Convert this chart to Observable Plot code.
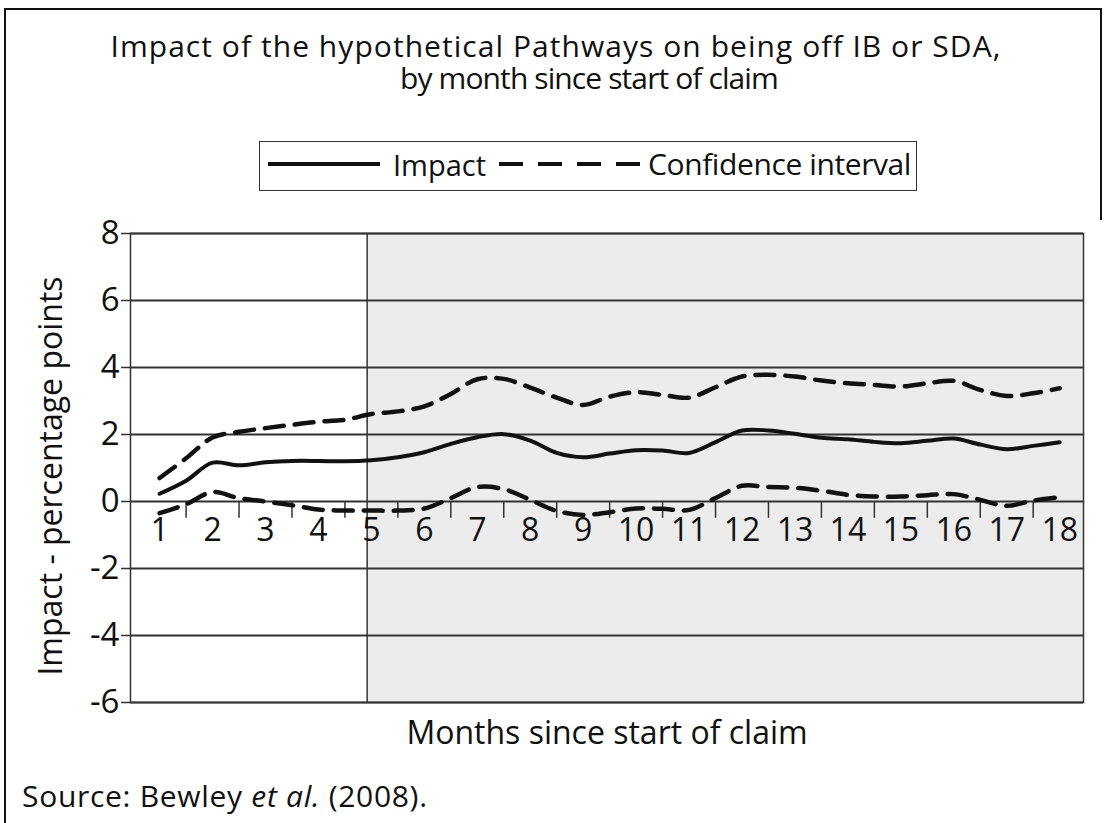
<!DOCTYPE html>
<html>
<head>
<meta charset="utf-8">
<script src="https://cdn.jsdelivr.net/npm/d3@7"></script>
<script src="https://cdn.jsdelivr.net/npm/@observablehq/plot@0.6"></script>
<style>
  html, body { margin: 0; padding: 0; background: #fff; }
  #page { position: relative; width: 1105px; height: 823px; overflow: hidden; background: #fff; font-family: "Open Sans", sans-serif; color: #111; }
  .abs { position: absolute; white-space: nowrap; line-height: 1; }
  .c { transform: translate(-50%, -50%); }
  #chart { position: absolute; left: 0; top: 215px; }
</style>
</head>
<body>
<div id="page">
  <div class="abs" style="left:4px; top:8px; width:2px; height:815px; background:#111"></div>
  <div class="abs" style="left:4px; top:8px; width:1098px; height:2px; background:#111"></div>
  <div class="abs" style="left:1100px; top:8px; width:2px; height:212px; background:#111"></div>

  <div class="abs" id="title" style="left:0; top:30px; width:1112px; text-align:center; font-size:30px; line-height:32px;"><span style="letter-spacing:1.05px;">Impact of the hypothetical Pathways on being off IB or SDA,</span><br><span style="display:inline-block; position:relative; left:33px; letter-spacing:-0.9px;">by month since start of claim</span></div>

  <div class="abs" id="legend" style="left:259px; top:141px; width:658px; height:50px; border:1.5px solid #333; box-sizing:border-box;">
    <svg class="abs" style="left:6px; top:0px" width="116" height="46"><line x1="2" x2="114" y1="22" y2="22" stroke="#111" stroke-width="4"/></svg>
    <div class="abs" style="left:133px; top:22px; transform:translate(0,-50%); font-size:29px;">Impact</div>
    <svg class="abs" style="left:237px; top:0px" width="146" height="46"><line x1="2" x2="143" y1="22" y2="22" stroke="#111" stroke-width="4" stroke-dasharray="24,15"/></svg>
    <div class="abs" style="left:388px; top:22px; transform:translate(0,-50%); font-size:30px; letter-spacing:-0.4px;">Confidence interval</div>
  </div>

  <div id="chart"></div>

  <div class="abs" style="left:22px; top:796px; transform:translate(0,-50%); font-size:30px; letter-spacing:0.7px;">Source: Bewley <i>et al.</i> (2008).</div>
</div>
<script>
// ---- data ----
const months = [1,1.5,2,2.5,3,3.5,4,4.5,5,5.5,6,6.5,7,7.5,8,8.5,9,9.5,10,10.5,11,11.5,12,12.5,13,13.5,14,14.5,15,15.5,16,16.5,17,17.5,18];
const impact = [0.23,0.62,1.16,1.08,1.17,1.21,1.21,1.20,1.23,1.32,1.47,1.72,1.92,2.01,1.82,1.45,1.32,1.43,1.53,1.52,1.45,1.77,2.12,2.12,2.02,1.90,1.86,1.78,1.74,1.81,1.88,1.70,1.56,1.66,1.77];
const upperCI = [0.70,1.29,1.91,2.08,2.19,2.29,2.38,2.44,2.61,2.69,2.84,3.21,3.65,3.66,3.40,3.10,2.88,3.13,3.26,3.18,3.10,3.41,3.73,3.78,3.73,3.61,3.53,3.48,3.43,3.53,3.60,3.33,3.15,3.23,3.38];
const lowerCI = [-0.35,-0.08,0.28,0.10,0.00,-0.11,-0.24,-0.27,-0.27,-0.27,-0.21,0.10,0.43,0.37,0.05,-0.28,-0.40,-0.32,-0.21,-0.22,-0.25,0.10,0.47,0.43,0.41,0.32,0.20,0.15,0.15,0.19,0.22,0.05,-0.13,0.03,0.13];
const monthLabels = [1,2,3,4,5,6,7,8,9,10,11,12,13,14,15,16,17,18];
const monthTicks = [1.5,2.5,3.5,4.5,5.5,6.5,7.5,8.5,9.5,10.5,11.5,12.5,13.5,14.5,15.5,16.5,17.5];
const yTicks = [-6,-4,-2,0,2,4,6,8];
const xDomain = [0.45, 18.45];
const shadedStart = 4.92;
const shaded = [{x1: shadedStart, x2: xDomain[1], y1: -6, y2: 8}];
const yTitle = "Impact - percentage points";
const xTitle = "Months since start of claim";

const impactRows = months.map((m, i) => ({m, v: impact[i]}));
const upperRows = months.map((m, i) => ({m, v: upperCI[i]}));
const lowerRows = months.map((m, i) => ({m, v: lowerCI[i]}));

const chart = Plot.plot({
  width: 1105,
  height: 545,
  marginLeft: 130,
  marginRight: 22,
  marginTop: 18,
  marginBottom: 58,
  style: {fontFamily: "Open Sans", background: "transparent", color: "#111", overflow: "visible"},
  x: {domain: xDomain, axis: null},
  y: {domain: [-6, 8], axis: null},
  marks: [
    Plot.rect(shaded, {x1: "x1", x2: "x2", y1: "y1", y2: "y2", fill: "#ebeceb"}),
    Plot.ruleY(yTicks, {stroke: "#333", strokeWidth: 1.8}),
    Plot.ruleX([shadedStart], {stroke: "#333", strokeWidth: 1.5}),
    Plot.frame({stroke: "#333", strokeWidth: 1.5}),
    // y axis ticks and labels
    Plot.ruleY(yTicks, {y: d => d, x1: xDomain[0], x2: xDomain[0], insetLeft: -9, stroke: "#333", strokeWidth: 1.5}),
    Plot.text(yTicks, {y: d => d, frameAnchor: "left", dx: -11, textAnchor: "end", lineAnchor: "middle", fontSize: 33, text: d => String(d)}),
    // x ticks on the zero line and labels
    Plot.ruleX(monthTicks, {x: d => d, y1: 0, y2: -0.5, stroke: "#333", strokeWidth: 1.5}),
    Plot.text(monthLabels, {x: d => d, y: 0, dy: 29, text: d => String(d), fontSize: 32, lineAnchor: "middle"}),
    Plot.line(lowerRows, {x: "m", y: "v", curve: "catmull-rom", stroke: "#111", strokeWidth: 4.5, strokeDasharray: "19,11"}),
    Plot.line(upperRows, {x: "m", y: "v", curve: "catmull-rom", stroke: "#111", strokeWidth: 4.5, strokeDasharray: "19,11"}),
    Plot.line(impactRows, {x: "m", y: "v", curve: "catmull-rom", stroke: "#111", strokeWidth: 4}),
    Plot.text([yTitle], {frameAnchor: "left", dx: -79, dy: 8, rotate: -90, fontSize: 32, textAnchor: "middle", lineAnchor: "middle", text: d => d}),
    Plot.text([xTitle], {frameAnchor: "bottom", dy: 31, fontSize: 32, textAnchor: "middle", lineAnchor: "middle", text: d => d})
  ]
});
document.getElementById("chart").appendChild(chart);
</script>
</body>
</html>
